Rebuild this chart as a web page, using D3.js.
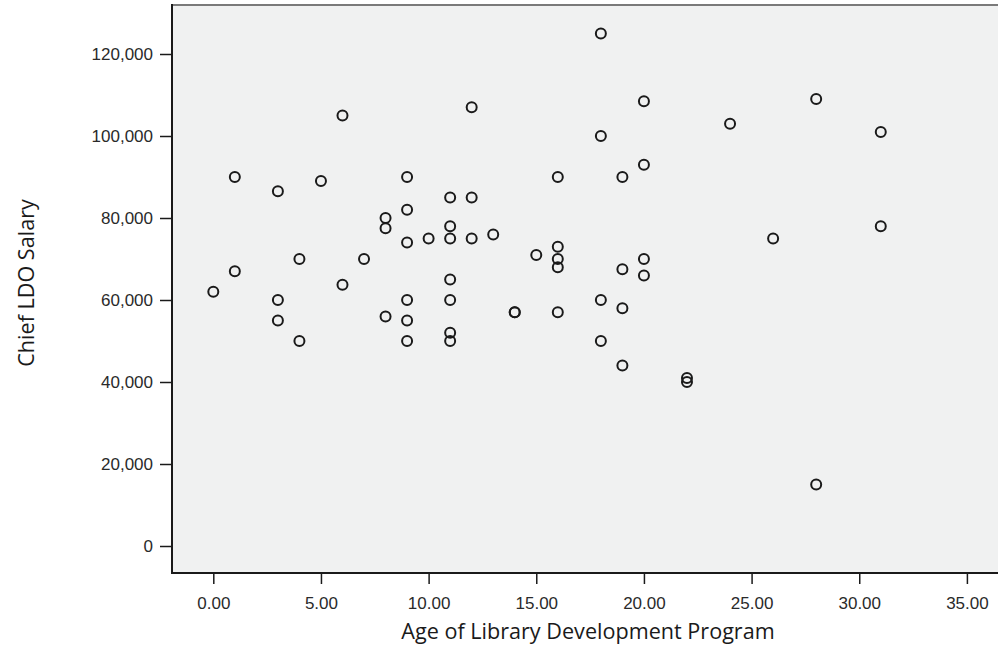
<!DOCTYPE html>
<html>
<head>
<meta charset="utf-8">
<script src="https://cdn.jsdelivr.net/npm/d3@7"></script>
<style>
  html, body { margin: 0; padding: 0; background: #ffffff; }
  svg { display: block; }
</style>
</head>
<body>
<svg id="chart" width="998" height="650"></svg>
<script>
// Age of Library Development Program (years)
const ages = [
  0, 1, 1, 3, 3, 3, 4, 4, 5, 6, 6, 7,
  8, 8, 8, 9, 9, 9, 9, 9, 9, 10,
  11, 11, 11, 11, 11, 11, 11, 12, 12, 12, 13,
  14, 14, 15, 16, 16, 16, 16, 16,
  18, 18, 18, 18, 19, 19, 19, 19,
  20, 20, 20, 20, 22, 22, 24, 26, 28, 28, 31, 31
];
// Chief LDO Salary
const salaries = [
  62000, 90000, 67000, 86500, 60000, 55000, 70000, 50000, 89000, 105000, 63700, 70000,
  80000, 77500, 56000, 90000, 82000, 74000, 60000, 55000, 50000, 75000,
  85000, 78000, 75000, 65000, 60000, 52000, 50000, 107000, 85000, 75000, 76000,
  57000, 57000, 71000, 90000, 73000, 70000, 68000, 57000,
  125000, 100000, 60000, 50000, 90000, 67500, 58000, 44000,
  108500, 93000, 70000, 66000, 41000, 40000, 103000, 75000, 109000, 15000, 101000, 78000
];
const xTicks = [0, 5, 10, 15, 20, 25, 30, 35];
const yTicks = [0, 20000, 40000, 60000, 80000, 100000, 120000];
const xTitle = "Age of Library Development Program";
const yTitle = "Chief LDO Salary";

const svg = d3.select("#chart");
const frame = { left: 172, top: 5, right: 1000, bottom: 573 };

const x = d3.scaleLinear().domain([0, 35]).range([213.3, 966.9]);
const y = d3.scaleLinear().domain([0, 120000]).range([546, 54]);

// plot background
svg.append("rect")
  .attr("x", frame.left).attr("y", frame.top)
  .attr("width", frame.right - frame.left).attr("height", frame.bottom - frame.top)
  .attr("fill", "#f0f1f1");

// top frame line
svg.append("line").attr("x1", frame.left).attr("x2", frame.right)
  .attr("y1", frame.top).attr("y2", frame.top)
  .attr("stroke", "#7a7a7a").attr("stroke-width", 2);

const tickFont = "'Liberation Sans', Arial, sans-serif";

// y axis
const yAxis = d3.axisLeft(y).tickValues(yTicks).tickFormat(d3.format(","))
  .tickSize(12).tickPadding(7).tickSizeOuter(0);
const gy = svg.append("g").attr("transform", `translate(${frame.left},0)`).call(yAxis);
gy.select(".domain").remove();

// x axis
const xAxis = d3.axisBottom(x).tickValues(xTicks).tickFormat(d3.format(".2f"))
  .tickSize(11).tickPadding(13).tickSizeOuter(0);
const gx = svg.append("g").attr("transform", `translate(0,${frame.bottom})`).call(xAxis);
gx.select(".domain").remove();

[gx, gy].forEach(g => {
  g.selectAll(".tick line").attr("stroke", "#1a1a1a").attr("stroke-width", 1.5);
  g.selectAll(".tick text")
    .attr("fill", "#2a2a2a")
    .style("font-family", tickFont)
    .style("font-size", "17px");
});

// left and bottom frame lines
svg.append("line").attr("x1", frame.left).attr("x2", frame.left)
  .attr("y1", frame.top - 1).attr("y2", frame.bottom)
  .attr("stroke", "#1a1a1a").attr("stroke-width", 2);
svg.append("line").attr("x1", frame.left - 1).attr("x2", frame.right)
  .attr("y1", frame.bottom).attr("y2", frame.bottom)
  .attr("stroke", "#1a1a1a").attr("stroke-width", 2);

// points
svg.append("g").selectAll("circle")
  .data(ages.map((a, i) => ({ a, s: salaries[i] })))
  .join("circle")
  .attr("cx", d => x(d.a))
  .attr("cy", d => y(d.s))
  .attr("r", 5)
  .attr("fill", "none")
  .attr("stroke", "#1a1a1a")
  .attr("stroke-width", 2);

// axis titles
const titleFont = "'Open Sans', 'Noto Sans', sans-serif";
svg.append("text")
  .attr("x", 588).attr("y", 639)
  .attr("text-anchor", "middle")
  .attr("fill", "#1a1a1a")
  .style("font-family", titleFont)
  .style("font-size", "21.6px")
  .text(xTitle);

svg.append("text")
  .attr("transform", "translate(34,283) rotate(-90)")
  .attr("text-anchor", "middle")
  .attr("fill", "#1a1a1a")
  .style("font-family", titleFont)
  .style("font-size", "21.6px")
  .text(yTitle);
</script>
</body>
</html>
